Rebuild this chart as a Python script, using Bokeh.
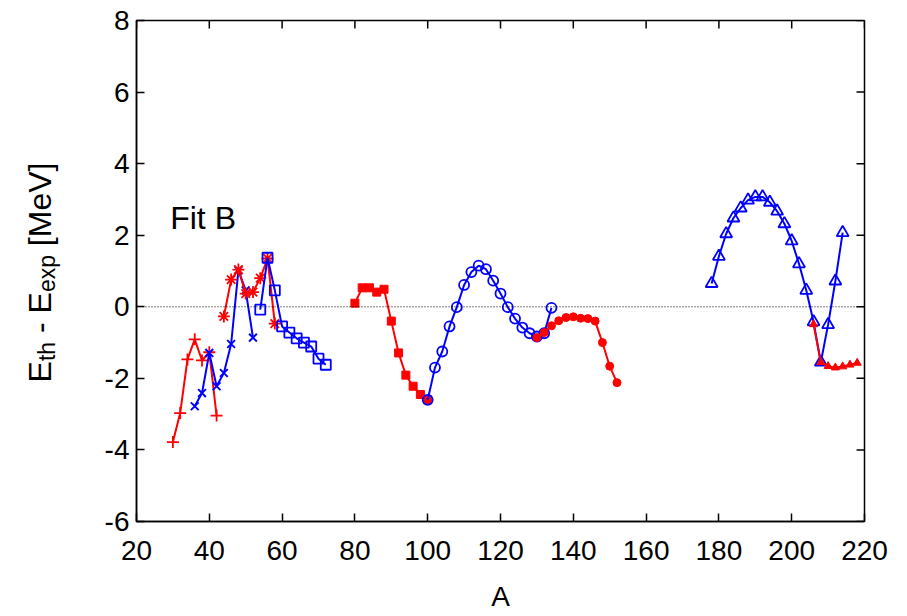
import math
from bokeh.plotting import figure
from bokeh.layouts import row
from bokeh.models import Label, Span, FixedTicker, Range1d
from bokeh.core.properties import value
from bokeh.embed import file_html
from bokeh.resources import INLINE

# ---- data ----
A_plus = [30, 32, 34, 36, 38, 40, 42]
E_plus = [-3.78, -2.97, -1.47, -0.91, -1.50, -1.27, -3.04]

A_cross = [36, 38, 40, 42, 44, 46, 48, 50, 52]
E_cross = [-2.78, -2.41, -1.29, -2.22, -1.85, -1.04, 1.02, 0.46, -0.86]

A_star = [44, 46, 48, 50, 52, 54, 56, 58]
E_star = [-0.27, 0.76, 1.04, 0.37, 0.41, 0.80, 1.35, -0.47]

A_sq_open = [54, 56, 58, 60, 62, 64, 66, 68, 70, 72]
E_sq_open = [-0.08, 1.37, 0.46, -0.55, -0.72, -0.88, -1.00, -1.11, -1.45, -1.62]

A_sq_fill = [80, 82, 84, 86, 88, 90, 92, 94, 96, 98, 100]
E_sq_fill = [0.10, 0.53, 0.53, 0.41, 0.49, -0.40, -1.29, -1.91, -2.22, -2.45, -2.60]

A_circ_open = [100, 102, 104, 106, 108, 110, 112, 114, 116, 118, 120, 122,
               124, 126, 128, 130, 132, 134]
E_circ_open = [-2.60, -1.70, -1.25, -0.55, -0.01, 0.61, 0.97, 1.15, 1.05, 0.73,
               0.37, -0.01, -0.33, -0.58, -0.74, -0.83, -0.74, -0.03]

A_circ_fill = [130, 132, 134, 136, 138, 140, 142, 144, 146, 148, 150, 152]
E_circ_fill = [-0.86, -0.72, -0.53, -0.39, -0.30, -0.28, -0.32, -0.33, -0.40,
               -1.00, -1.66, -2.12]

A_tri_open = [178, 180, 182, 184, 186, 188, 190, 192, 194, 196, 198, 200, 202,
              204, 206, 208, 210, 212, 214]
E_tri_open = [0.65, 1.41, 2.04, 2.48, 2.76, 2.98, 3.07, 3.07, 2.92, 2.67, 2.32,
              1.84, 1.20, 0.46, -0.42, -1.55, -0.50, 0.72, 2.07]

A_tri_fill = [206, 208, 210, 212, 214, 216, 218]
E_tri_fill = [-0.49, -1.55, -1.66, -1.70, -1.67, -1.62, -1.57]

x_ticks = [20, 40, 60, 80, 100, 120, 140, 160, 180, 200, 220]
y_ticks = [-6, -4, -2, 0, 2, 4, 6, 8]

RED = "#ff0000"
BLUE = "#0000ff"
FONT = "Liberation Sans"

TOP, FRAME_H, BOTTOM = 20, 501, 93
H = TOP + FRAME_H + BOTTOM
LABEL_W = 70
W = 899
X0, X1, Y0, Y1 = 20, 220, -6, 8
PX_PER_Y = FRAME_H / (Y1 - Y0)

def page_y(py):
    return Y1 - (py - TOP) / PX_PER_Y

# ---- left strip holding the rotated y-axis title ----
lab = figure(width=LABEL_W, height=H, x_range=Range1d(0, LABEL_W), y_range=Range1d(Y0, Y1),
             output_backend="svg", toolbar_location=None,
             x_axis_location=None, y_axis_location=None,
             min_border_left=0, min_border_right=0, min_border_top=TOP,
             min_border_bottom=BOTTOM)
lab.grid.visible = False
lab.outline_line_color = None

big, small = 32, 23
wid = {"E": 0.667, "t": 0.278, "h": 0.556, " ": 0.278, "-": 0.333, "e": 0.556,
       "x": 0.5, "p": 0.556, "[": 0.278, "M": 0.833, "V": 0.667, "]": 0.278}
SP = wid[" "] * big
# (text, font size, baseline shift in px, gap after in px)
pieces = [("E", big, 0, 0), ("th", small, 7, SP), ("-", big, 0, SP), ("E", big, 0, 0),
          ("exp", small, 7, SP), ("[MeV]", big, 0, 0)]
lengths = [sum(wid[c] for c in s) * fs + g for s, fs, _, g in pieces]
pos = 272.0 + sum(lengths) / 2.0
base_x = 39.0
for (s, fs, dx, g), L in zip(pieces, lengths):
    lab.text(x=[base_x + dx], y=[page_y(pos)], text=[s], angle=math.pi / 2,
             text_font=value(FONT), text_font_size=f"{fs}px", text_color="black",
             text_align="left", text_baseline="alphabetic")
    pos -= L

# ---- main plot ----
p = figure(width=W - LABEL_W, height=H, x_range=Range1d(X0, X1), y_range=Range1d(Y0, Y1),
           output_backend="svg", toolbar_location=None,
           min_border_left=136 - LABEL_W, min_border_right=35, min_border_top=TOP,
           min_border_bottom=BOTTOM)
p.grid.visible = False
p.outline_line_color = "black"
p.outline_line_width = 1.5
p.background_fill_color = "white"
p.border_fill_color = "white"

for ax, t in ((p.xaxis[0], x_ticks), (p.yaxis[0], y_ticks)):
    ax.ticker = FixedTicker(ticks=t)
    ax.major_tick_in = 8
    ax.major_tick_out = 0
    ax.minor_tick_line_color = None
    ax.axis_line_width = 1.5
    ax.major_tick_line_width = 1.5
    ax.major_label_text_font = FONT
    ax.major_label_text_font_size = "28px"
    ax.major_label_text_color = "black"
    ax.major_label_overrides = {v: str(v) for v in t}

p.xaxis[0].major_label_standoff = 19
p.yaxis[0].major_label_standoff = 7
p.xaxis[0].axis_label = "A"
p.xaxis[0].axis_label_text_font = FONT
p.xaxis[0].axis_label_text_font_size = "28px"
p.xaxis[0].axis_label_text_font_style = "normal"
p.xaxis[0].axis_label_text_color = "black"
p.xaxis[0].axis_label_standoff = 18

# mirrored inward ticks on top and right edges (8 px long)
tick_dy = 8 / PX_PER_Y
tick_dx = 8 * (X1 - X0) / 728.0
p.segment(x0=x_ticks, y0=[Y1] * len(x_ticks), x1=x_ticks, y1=[Y1 - tick_dy] * len(x_ticks),
          line_color="black", line_width=1.5)
p.segment(x0=[X1] * len(y_ticks), y0=y_ticks, x1=[X1 - tick_dx] * len(y_ticks), y1=y_ticks,
          line_color="black", line_width=1.5)

p.add_layout(Span(location=0, dimension="width", line_color="black",
                  line_width=1, line_dash="1 2"))

LW = 2
p.line(A_plus, E_plus, color=RED, line_width=LW)
p.scatter(A_plus, E_plus, marker="cross", size=12, line_color=RED, line_width=1.8)

p.line(A_cross, E_cross, color=BLUE, line_width=LW)
p.scatter(A_cross, E_cross, marker="x", size=11, line_color=BLUE, line_width=2)

p.line(A_star, E_star, color=RED, line_width=LW)
p.scatter(A_star, E_star, marker="asterisk", size=12, line_color=RED, line_width=1.8)

p.line(A_sq_open, E_sq_open, color=BLUE, line_width=LW)
p.scatter(A_sq_open, E_sq_open, marker="square", size=10, line_color=BLUE,
          fill_color=None, line_width=1.8)

p.line(A_sq_fill, E_sq_fill, color=RED, line_width=LW)
p.scatter(A_sq_fill, E_sq_fill, marker="square", size=8, line_color=RED,
          fill_color=RED, line_width=1)

p.line(A_circ_open, E_circ_open, color=BLUE, line_width=LW)
p.scatter(A_circ_open, E_circ_open, marker="circle", size=10, line_color=BLUE,
          fill_color=None, line_width=1.8)

p.line(A_circ_fill, E_circ_fill, color=RED, line_width=LW)
p.scatter(A_circ_fill, E_circ_fill, marker="circle", size=8, line_color=RED,
          fill_color=RED, line_width=1)

p.line(A_tri_open, E_tri_open, color=BLUE, line_width=LW)
p.scatter(A_tri_open, E_tri_open, marker="triangle", size=12, line_color=BLUE,
          fill_color=None, line_width=1.8)

p.line(A_tri_fill, E_tri_fill, color=RED, line_width=LW)
p.scatter(A_tri_fill, E_tri_fill, marker="triangle", size=8, line_color=RED,
          fill_color=RED, line_width=1)

# "Fit B" annotation, placed by page pixel
fx = X0 + (170 - 136.3) * (X1 - X0) / 728.0
p.add_layout(Label(x=fx, y=page_y(217), text="Fit B", text_font=FONT, text_font_size="32px",
                   text_color="black", text_baseline="middle", text_align="left"))

layout = row(lab, p, spacing=0)
open("out.html", "w").write(file_html(layout, INLINE))
